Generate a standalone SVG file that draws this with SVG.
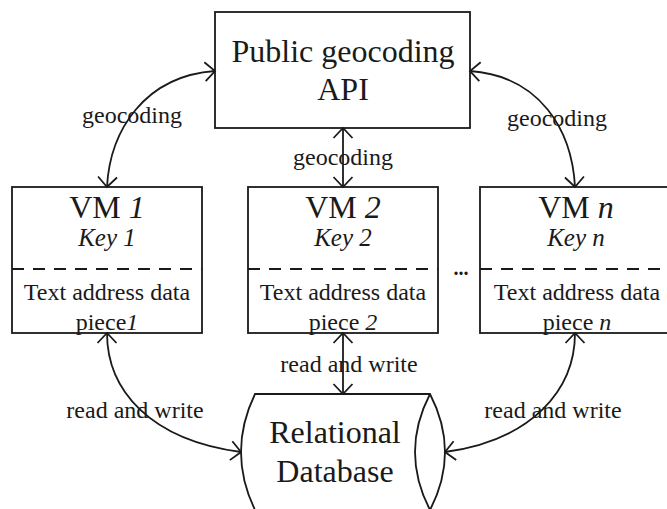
<svg xmlns="http://www.w3.org/2000/svg" width="667" height="509" viewBox="0 0 667 509">
<defs>
<style>
.box{fill:#fff;stroke:#1a1a1a;stroke-width:1.8}
.dash{stroke:#1a1a1a;stroke-width:1.8;stroke-dasharray:12 9;fill:none}
.conn{fill:none;stroke:#1a1a1a;stroke-width:1.8;marker-start:url(#arr);marker-end:url(#arr)}
text{font-family:"Liberation Serif","Times New Roman",serif;fill:#1a1a1a;text-anchor:middle}
.big{font-size:32px}
.key{font-size:25px;font-style:italic}
.mid{font-size:24px}
.lbl{font-size:24px}
.it{font-style:italic}
</style>
<marker id="arr" viewBox="-12 -11 14 22" refX="0" refY="0" markerWidth="14" markerHeight="22" markerUnits="userSpaceOnUse" orient="auto-start-reverse" overflow="visible">
<path d="M-10,-9.5 L0,0 L-10,9.5" fill="none" stroke="#1a1a1a" stroke-width="1.8"/>
</marker>
</defs>
<g id="api">
<rect class="box" x="215" y="12" width="255" height="116"/>
<text class="big" x="343" y="62">Public geocoding</text>
<text class="big" x="343" y="100">API</text>
</g>
<g id="vm1">
<rect class="box" x="12" y="187" width="190" height="146"/>
<line class="dash" x1="12" y1="269" x2="202" y2="269"/>
<text class="big" x="107" y="218">VM <tspan class="it">1</tspan></text>
<text class="key" x="107" y="246">Key 1</text>
<text class="mid" x="107" y="300">Text address data</text>
<text class="mid" x="107" y="330">piece<tspan class="it">1</tspan></text>
</g>
<g id="vm2">
<rect class="box" x="248" y="187" width="190" height="146"/>
<line class="dash" x1="248" y1="269" x2="438" y2="269"/>
<text class="big" x="343" y="218">VM <tspan class="it">2</tspan></text>
<text class="key" x="343" y="246">Key 2</text>
<text class="mid" x="343" y="300">Text address data</text>
<text class="mid" x="343" y="330">piece <tspan class="it">2</tspan></text>
</g>
<g id="dots">
<text x="461" y="275" style="font-size:20px;font-weight:bold">...</text>
</g>
<g id="vmn">
<rect class="box" x="480" y="187" width="194" height="146"/>
<line class="dash" x1="480" y1="269" x2="674" y2="269"/>
<text class="big" x="576" y="218">VM <tspan class="it">n</tspan></text>
<text class="key" x="576" y="246">Key n</text>
<text class="mid" x="577" y="300">Text address data</text>
<text class="mid" x="577" y="330">piece <tspan class="it">n</tspan></text>
</g>
<g id="db">
<path class="box" d="M255,394 L430,394 Q460,452 430,510 L255,510 Q227,452 255,394 Z"/>
<path d="M430,394 Q400,452 430,510" fill="none" stroke="#1a1a1a" stroke-width="1.8"/>
<text class="big" x="335" y="443">Relational</text>
<text class="big" x="335" y="482">Database</text>
</g>
<g id="connectors">
<path class="conn" d="M107,187 C110,130 145,76 215,71"/>
<path class="conn" d="M575,187 C572,130 540,76 470,71"/>
<path class="conn" d="M343,128 L343,187"/>
<path class="conn" d="M107,333 C107,390 150,440 241,452"/>
<path class="conn" d="M343,333 L343,394"/>
<path class="conn" d="M575,333 C575,390 532,440 445,452"/>
<text class="lbl" x="132" y="123">geocoding</text>
<text class="lbl" x="343" y="165">geocoding</text>
<text class="lbl" x="557" y="126">geocoding</text>
<text class="lbl" x="135" y="418">read and write</text>
<text class="lbl" x="349" y="372">read and write</text>
<text class="lbl" x="553" y="418">read and write</text>
</g>
</svg>
